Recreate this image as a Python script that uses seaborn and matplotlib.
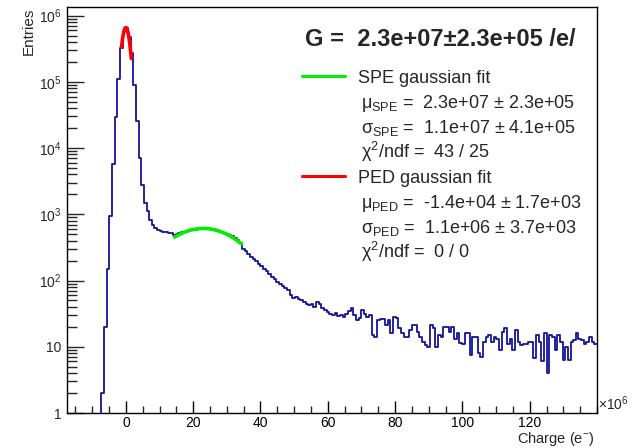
import numpy as np
import pandas as pd
import matplotlib
matplotlib.use("Agg")
import matplotlib.pyplot as plt
import matplotlib.ticker as mticker
import seaborn as sns

# ---------------- data (charge in units of 1e6 e-) ----------------
bin_start = -17.5
bin_width = 0.7875

counts_zero = [0] * 13
counts_rise = [2, 20, 150, 930, 5700, 29000, 112000, 324000, 560000, 650000]
counts_fall = [480000, 270000, 89000, 26000, 7200, 2750, 1480, 1120, 810, 700]
counts_valley = [620, 580, 560, 545, 540, 530, 525, 490]
counts_spe = [505, 520, 540, 550, 565, 575, 590, 585, 600, 610, 605, 612, 600,
              595, 590, 575, 560, 545, 530, 505, 490, 465, 440, 410, 375]
counts_tail = [300, 275, 250, 225, 210, 195, 180, 165, 150, 140,
               125, 114, 105, 95, 88, 82, 76, 72, 60, 55,
               57, 52, 50, 47, 44, 42, 45, 40, 48, 44,
               38, 36, 33, 31, 30, 32, 29, 30, 28, 31,
               35, 38, 30, 25, 27, 36, 31, 28, 30, 15,
               14, 25, 26, 26, 21, 25, 16, 28, 27, 19,
               16, 14, 14, 18, 21, 21, 17, 14, 12, 10.6,
               10, 21, 19, 10, 15, 14, 20, 20, 17, 20,
               13, 16, 11.5, 11, 16, 16, 7.5, 14, 14, 8,
               7, 12, 14, 15, 12, 14, 13, 9, 17, 19,
               11, 13, 9, 18, 12, 10.6, 11, 11, 12, 12,
               6.7, 15, 12, 6, 16, 4, 15, 14, 9, 15,
               12, 6.3, 10, 6.3, 12, 12.6, 16, 13, 12.6, 11,
               12, 14, 12, 11]

# fit parameters (from the legend), amplitudes
spe_amp, spe_mu, spe_sigma, spe_range = 611, 23.0, 11.0, (14.5, 34.4)
ped_amp, ped_mu, ped_sigma, ped_range = 660000, -0.014, 1.1, (-1.3, 1.6)

x_ticks = [0, 20, 40, 60, 80, 100, 120]
y_ticks = [1, 10, 1e2, 1e3, 1e4, 1e5, 1e6]
y_tick_labels = ["1", "10", r"$\mathregular{10^{2}}$", r"$\mathregular{10^{3}}$",
                 r"$\mathregular{10^{4}}$", r"$\mathregular{10^{5}}$", r"$\mathregular{10^{6}}$"]

gain_text = "G =  2.3e+07±2.3e+05 /e/"
legend_lines = [
    ("SPE gaussian fit", "line", "#00ee00"),
    (r"μ$_{\rm SPE}$ =  2.3e+07 ± 2.3e+05", None, None),
    (r"σ$_{\rm SPE}$ =  1.1e+07 ± 4.1e+05", None, None),
    (r"χ$^{2}$/ndf =  43 / 25", None, None),
    ("PED gaussian fit", "line", "#ff0000"),
    (r"μ$_{\rm PED}$ =  -1.4e+04 ± 1.7e+03", None, None),
    (r"σ$_{\rm PED}$ =  1.1e+06 ± 3.7e+03", None, None),
    (r"χ$^{2}$/ndf =  0 / 0", None, None),
]

# ---------------- build frames ----------------
counts = np.array(counts_zero + counts_rise + counts_fall + counts_valley
                  + counts_spe + counts_tail, dtype=float)
edges = bin_start + bin_width * np.arange(len(counts) + 1)
step_df = pd.DataFrame({"charge": edges,
                        "entries": np.append(counts, counts[-1])})
step_df.loc[step_df["entries"] <= 0, "entries"] = 1e-3  # empty bins -> below axis

xs = np.linspace(*spe_range, 120)
spe_df = pd.DataFrame({"x": xs, "y": spe_amp * np.exp(-0.5 * ((xs - spe_mu) / spe_sigma) ** 2)})
xp = np.linspace(*ped_range, 80)
ped_df = pd.DataFrame({"x": xp, "y": ped_amp * np.exp(-0.5 * ((xp - ped_mu) / ped_sigma) ** 2)})

# ---------------- style ----------------
sns.set_theme(style="white")
plt.rcParams["font.family"] = ["Liberation Sans", "DejaVu Sans"]
plt.rcParams["mathtext.fontset"] = "custom"
plt.rcParams["mathtext.rm"] = "Liberation Sans"
plt.rcParams["mathtext.it"] = "Liberation Sans:italic"
plt.rcParams["mathtext.bf"] = "Liberation Sans:bold"

W, H = 641, 448
fig = plt.figure(figsize=(W / 100, H / 100), dpi=100)
ax = fig.add_axes([67 / W, 35 / H, 530 / W, 406 / H])

sns.lineplot(data=step_df, x="charge", y="entries", drawstyle="steps-post",
             color="#141496", linewidth=1.3, estimator=None, sort=False, ax=ax)
sns.lineplot(data=ped_df, x="x", y="y", color="#ff0000", linewidth=2.6,
             estimator=None, sort=False, ax=ax)
sns.lineplot(data=spe_df, x="x", y="y", color="#00ee00", linewidth=2.6,
             estimator=None, sort=False, ax=ax)

ax.set_yscale("log")
ax.set_xlim(-17.5, 140)
ax.set_ylim(1, 10 ** 6.13)

ax.xaxis.set_major_locator(mticker.FixedLocator(x_ticks))
ax.xaxis.set_minor_locator(mticker.MultipleLocator(5))
ax.set_xticklabels([str(t) for t in x_ticks])
ax.yaxis.set_major_locator(mticker.FixedLocator(y_ticks))
ax.set_yticklabels(y_tick_labels)
ax.yaxis.set_minor_locator(mticker.LogLocator(base=10, subs=np.arange(2, 10)))
ax.yaxis.set_minor_formatter(mticker.NullFormatter())

ax.tick_params(axis="x", which="major", direction="in", length=8.5, width=1,
               labelsize=10, pad=2, colors="black", bottom=True, top=False)
ax.tick_params(axis="x", which="minor", direction="in", length=5, width=1,
               bottom=True, top=False)
ax.tick_params(axis="y", which="major", direction="in", length=12, width=1,
               labelsize=10, pad=4, left=True, right=False)
ax.tick_params(axis="y", which="minor", direction="in", length=7, width=1,
               left=True, right=False)
for s in ax.spines.values():
    s.set_color("black")
    s.set_linewidth(1)
    s.set_visible(True)

ax.set_xlabel("")
ax.set_ylabel("")
fig.text(595 / W, 1 - 443 / H, r"Charge (e$^{-}$)", fontsize=10.5,
         ha="right", va="baseline")
fig.text(29 / W, 1 - 8 / H, "Entries", fontsize=11, rotation=90,
         ha="center", va="top")
fig.text(598 / W, 1 - 413 / H, r"×10$^{6}$", fontsize=10, ha="left", va="bottom")

# ---------------- legend / fit box ----------------
fig.text(440 / W, 1 - 46 / H, gain_text, fontsize=17, fontweight="bold",
         ha="center", va="baseline")
base = 83
for i, (txt, kind, col) in enumerate(legend_lines):
    yb = base + 25 * i
    if kind == "line":
        fig.add_artist(plt.Line2D([302 / W, 345 / W], [1 - (yb - 7) / H] * 2,
                                  color=col, linewidth=2.2, transform=fig.transFigure))
        fig.text(358 / W, 1 - yb / H, txt, fontsize=13, ha="left", va="baseline")
    else:
        fig.text(361 / W, 1 - yb / H, txt, fontsize=13, ha="left", va="baseline")

fig.savefig("out.png", dpi=100)
